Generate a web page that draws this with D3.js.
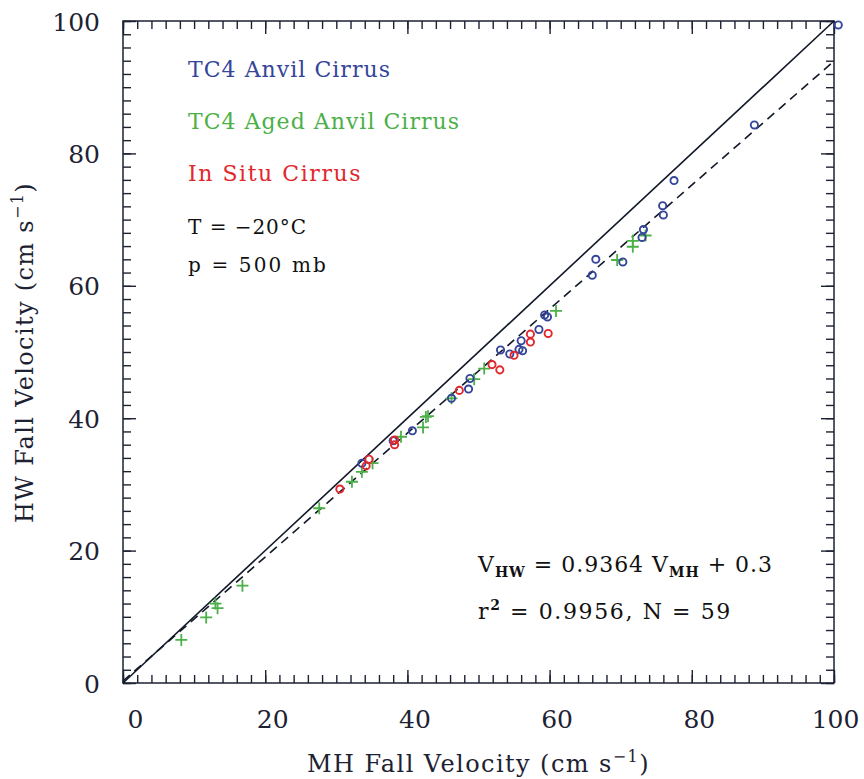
<!DOCTYPE html>
<html>
<head>
<meta charset="utf-8">
<script src="https://cdn.jsdelivr.net/npm/d3@7"></script>
<style>
  html, body { margin: 0; padding: 0; background: #fff; }
  svg { display: block; }
  text { font-family: "DejaVu Serif", "Liberation Serif", serif; white-space: pre; }
</style>
</head>
<body>
<svg id="chart" width="864" height="779"></svg>
<script>
// ---- Data ----
const xTicks = [0, 20, 40, 60, 80, 100];
const yTicks = [0, 20, 40, 60, 80, 100];

// TC4 Anvil Cirrus (blue circles): MH velocity, HW velocity
const anvilMH = [33.6, 38.0, 40.7, 46.2, 48.6, 48.8, 53.1, 54.4, 55.7, 56.2, 56.0, 58.5, 59.3, 59.7, 66.0, 66.5, 70.3, 73.0, 73.2, 75.9, 76.0, 77.5, 88.8, 100.6];
const anvilHW = [33.2, 36.6, 38.1, 43.0, 44.4, 46.0, 50.3, 49.7, 50.4, 50.2, 51.7, 53.4, 55.6, 55.3, 61.6, 64.0, 63.6, 67.3, 68.5, 72.1, 70.7, 75.9, 84.3, 99.4];

// TC4 Aged Anvil Cirrus (green plus signs)
const agedMH = [8.2, 11.7, 13.0, 13.3, 16.8, 27.6, 32.2, 33.6, 35.1, 39.1, 42.2, 42.6, 42.9, 46.2, 49.4, 50.8, 60.9, 69.5, 71.7, 71.7, 73.5];
const agedHW = [6.5, 9.9, 12.0, 11.3, 14.7, 26.4, 30.4, 31.9, 33.2, 37.2, 38.6, 40.2, 40.3, 43.0, 45.9, 47.5, 56.2, 63.9, 65.9, 66.8, 67.6];

// In Situ Cirrus (red circles)
const insituMH = [30.5, 34.2, 34.6, 38.2, 38.2, 47.3, 51.9, 53.0, 55.0, 57.3, 57.3, 59.8];
const insituHW = [29.3, 32.8, 33.8, 36.0, 36.7, 44.2, 48.1, 47.3, 49.5, 52.7, 51.5, 52.8];

// Regression line: V_HW = 0.9364 V_MH + 0.3
const fitSlope = 0.9364;
const fitIntercept = 0.3;
const lineX = [0, 100];

const seriesNames = ["TC4 Anvil Cirrus", "TC4 Aged Anvil Cirrus", "In Situ Cirrus"];
const seriesColors = ["#34459a", "#4cb048", "#e2272d"];

// ---- Layout ----
const svg = d3.select("#chart");
const L = 123, R = 834, T = 21, B = 683;
const x = d3.scaleLinear().domain([0, 100]).range([L, R]);
const y = d3.scaleLinear().domain([0, 100]).range([B, T]);
const axisColor = "#1d2233";
const textColor = "#1d2233";

// stretch a text's letter spacing so it spans a given width
function fitWidth(sel, w) {
  const n = sel.node();
  const len = n.getComputedTextLength();
  const chars = n.textContent.length;
  sel.attr("letter-spacing", ((w - len) / chars).toFixed(3));
  return sel;
}

// frame
svg.append("rect").attr("x", L).attr("y", T).attr("width", R - L).attr("height", B - T)
  .attr("fill", "none").attr("stroke", axisColor).attr("stroke-width", 1.5);

const minor = d3.range(0, 101, 2);
function drawAxis(gen, transform, vals, size, labels) {
  const g = svg.append("g").attr("transform", transform)
    .call(gen.tickValues(vals).tickSize(size).tickSizeOuter(0)
      .tickFormat(labels ? d3.format("d") : () => ""));
  g.select(".domain").remove();
  g.selectAll(".tick line").attr("stroke", axisColor).attr("stroke-width", 1.4);
  return g;
}
// minor ticks (inside) on all four sides
drawAxis(d3.axisBottom(x), `translate(0,${B})`, minor, -8, false);
drawAxis(d3.axisTop(x), `translate(0,${T})`, minor, -8, false);
drawAxis(d3.axisLeft(y), `translate(${L},0)`, minor, -8, false);
drawAxis(d3.axisRight(y), `translate(${R},0)`, minor, -8, false);
// major ticks
const gxb = drawAxis(d3.axisBottom(x), `translate(0,${B})`, xTicks, -13, true);
drawAxis(d3.axisTop(x), `translate(0,${T})`, xTicks, -13, false);
const gyl = drawAxis(d3.axisLeft(y), `translate(${L},0)`, yTicks, -13, true);
drawAxis(d3.axisRight(y), `translate(${R},0)`, yTicks, -13, false);

gxb.selectAll(".tick text")
  .attr("y", 45).attr("dy", 0).attr("dx", d => d === 0 ? 12 : (d === 100 ? 1 : 7))
  .attr("font-size", 25).attr("fill", textColor)
  .style("font-family", "DejaVu Serif");
gyl.selectAll(".tick text")
  .attr("x", -23).attr("dy", "0.36em")
  .attr("font-size", 25).attr("fill", textColor)
  .style("font-family", "DejaVu Serif");

// axis titles
const xt = svg.append("text").attr("x", 307).attr("y", 772)
  .attr("font-size", 24).attr("fill", textColor);
xt.append("tspan").text("MH Fall Velocity (cm s");
xt.append("tspan").attr("dy", -10).attr("font-size", 16).text("\u22121");
xt.append("tspan").attr("dy", 10).text(")");
fitWidth(xt, 343);

const yt = svg.append("text").attr("transform", "translate(33,523) rotate(-90)")
  .attr("font-size", 24).attr("fill", textColor);
yt.append("tspan").text("HW Fall Velocity (cm s");
yt.append("tspan").attr("dy", -10).attr("font-size", 16).text("\u22121");
yt.append("tspan").attr("dy", 10).text(")");
fitWidth(yt, 341);

// 1:1 line and regression fit
const line = d3.line().x(d => x(d[0])).y(d => y(d[1]));
svg.append("path").datum(lineX.map(v => [v, v])).attr("d", line)
  .attr("fill", "none").attr("stroke", "#111827").attr("stroke-width", 1.6);
svg.append("path").datum(lineX.map(v => [v, fitSlope * v + fitIntercept])).attr("d", line)
  .attr("fill", "none").attr("stroke", "#111827").attr("stroke-width", 1.6)
  .attr("stroke-dasharray", "9,6");

// points
const aged = agedMH.map((v, i) => [v, agedHW[i]]);
const anvil = anvilMH.map((v, i) => [v, anvilHW[i]]);
const insitu = insituMH.map((v, i) => [v, insituHW[i]]);

svg.append("g").selectAll("path").data(aged).join("path")
  .attr("d", d => `M${x(d[0]) - 6},${y(d[1])}h12M${x(d[0])},${y(d[1]) - 6}v12`)
  .attr("stroke", seriesColors[1]).attr("stroke-width", 1.8).attr("fill", "none");
svg.append("g").selectAll("circle").data(anvil).join("circle")
  .attr("cx", d => x(d[0])).attr("cy", d => y(d[1])).attr("r", 3.6)
  .attr("fill", "none").attr("stroke", seriesColors[0]).attr("stroke-width", 1.9);
svg.append("g").selectAll("circle").data(insitu).join("circle")
  .attr("cx", d => x(d[0])).attr("cy", d => y(d[1])).attr("r", 3.6)
  .attr("fill", "none").attr("stroke", seriesColors[2]).attr("stroke-width", 1.9);

// legend text
const legendY = [77, 129, 181];
const legendW = [203, 272, 174];
seriesNames.forEach((n, i) => {
  const t = svg.append("text").attr("x", 188).attr("y", legendY[i]).attr("font-size", 22)
    .attr("fill", seriesColors[i]).text(n);
  fitWidth(t, legendW[i]);
});
fitWidth(svg.append("text").attr("x", 188).attr("y", 234).attr("font-size", 20).attr("fill", "#111")
  .text("T = \u221220\u00b0C"), 119);
fitWidth(svg.append("text").attr("x", 188).attr("y", 272).attr("font-size", 20).attr("fill", "#111")
  .text("p = 500 mb"), 140);

// equation
const eq = svg.append("text").attr("x", 478).attr("y", 572).attr("font-size", 22).attr("fill", "#111");
eq.append("tspan").text("V");
eq.append("tspan").attr("dy", 5).attr("font-size", 14).attr("font-weight", "bold").text("HW");
eq.append("tspan").attr("dy", -5).text(" = 0.9364 V");
eq.append("tspan").attr("dy", 5).attr("font-size", 14).attr("font-weight", "bold").text("MH");
eq.append("tspan").attr("dy", -5).text(" + " + fitIntercept.toFixed(1));
fitWidth(eq, 295);

const eq2 = svg.append("text").attr("x", 478).attr("y", 619).attr("font-size", 22).attr("fill", "#111");
eq2.append("tspan").text("r");
eq2.append("tspan").attr("dy", -9).attr("font-size", 14).attr("font-weight", "bold").text("2");
eq2.append("tspan").attr("dy", 9).text(" = 0.9956, N = 59");
fitWidth(eq2, 254);
</script>
</body>
</html>
